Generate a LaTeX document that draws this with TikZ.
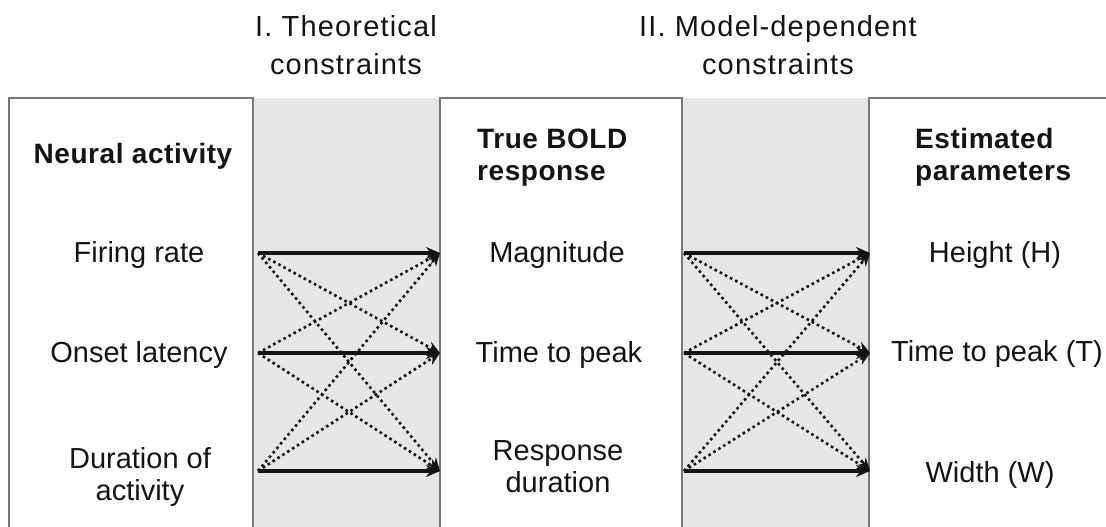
\documentclass[tikz,border=0pt]{standalone}
\usepackage{fontspec}
\setmainfont{Liberation Sans}
\usetikzlibrary{arrows.meta}
\definecolor{band}{HTML}{E6E6E6}
\definecolor{frame}{HTML}{777777}
\definecolor{ink}{HTML}{141414}
\begin{document}
\begin{tikzpicture}[x=1pt,y=-1pt,
 lbl/.style={inner sep=0pt, text=ink, font=\fontsize{29}{32}\selectfont, align=center, anchor=north},
 head/.style={inner sep=0pt, text=ink, font=\bfseries\fontsize{28}{32}\selectfont\addfontfeature{LetterSpace=2}, align=left, anchor=north west},
 title/.style={inner sep=0pt, text=ink, font=\fontsize{29}{38}\selectfont\addfontfeature{LetterSpace=4}, align=center, anchor=north},
 link/.style={draw=ink, line width=3.2pt, -{Stealth[length=14pt,width=12pt]}},
 alt/.style={draw=ink, line width=2.6pt, dash pattern=on 2.6pt off 3.2pt, -{Stealth[length=13pt,width=11pt]}},
 frameline/.style={draw=frame, line width=1.8pt}]
\useasboundingbox (0,0) rectangle (1106,527);
% bands and frames
\fill[band] (253,98) rectangle (440,527);
\fill[band] (682,98) rectangle (869,527);
\draw[frameline] (9,527) -- (9,98) -- (253,98) -- (253,527);
\draw[frameline] (440,527) -- (440,98) -- (682,98) -- (682,527);
\draw[frameline] (869,527) -- (869,98) -- (1106,98);
% titles
\node[title] (t1) at (346,15) {I. Theoretical\\constraints};
\node[title] (t2) at (778,15) {II. Model-dependent\\constraints};
% headings
\node[head, anchor=north] (na) at (133,143) {Neural activity};
\node[head] (bold) at (477,129) {True BOLD\\response};
\node[head] (est) at (915,128) {Estimated\\parameters};
% labels
\node[lbl] (fr) at (139,241) {Firing rate};
\node[lbl] (ol) at (139,341) {Onset latency};
\node[lbl] (dur) at (140,447) {Duration of\\activity};
\node[lbl] (mag) at (557,241) {Magnitude};
\node[lbl] (ttp) at (559,341) {Time to peak};
\node[lbl] (resp) at (558,440) {Response\\duration};
\node[lbl] (hgt) at (995,241) {Height (H)};
\node[lbl] (ttpT) at (997,340) {Time to peak (T)};
\node[lbl] (wid) at (990,461) {Width (W)};
% connector end points
\coordinate (a1) at (258,253); \coordinate (a2) at (258,353); \coordinate (a3) at (258,471);
\coordinate (b1) at (440,253); \coordinate (b2) at (440,353); \coordinate (b3) at (440,471);
\coordinate (c1) at (684,253); \coordinate (c2) at (684,353); \coordinate (c3) at (684,471);
\coordinate (d1) at (870,253); \coordinate (d2) at (870,353); \coordinate (d3) at (870,471);
% set I
\draw[alt] (a1) -- (b2); \draw[alt] (a1) -- (b3);
\draw[alt] (a2) -- (b1); \draw[alt] (a2) -- (b3);
\draw[alt] (a3) -- (b1); \draw[alt] (a3) -- (b2);
\draw[link] (a1) -- (b1); \draw[link] (a2) -- (b2); \draw[link] (a3) -- (b3);
% set II
\draw[alt] (c1) -- (d2); \draw[alt] (c1) -- (d3);
\draw[alt] (c2) -- (d1); \draw[alt] (c2) -- (d3);
\draw[alt] (c3) -- (d1); \draw[alt] (c3) -- (d2);
\draw[link] (c1) -- (d1); \draw[link] (c2) -- (d2); \draw[link] (c3) -- (d3);
\end{tikzpicture}
\end{document}
